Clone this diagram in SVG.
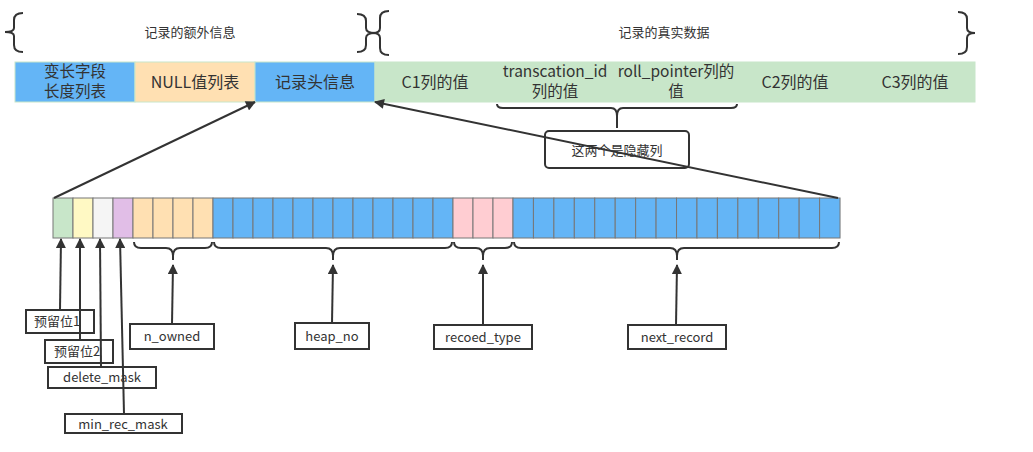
<svg xmlns="http://www.w3.org/2000/svg" width="1033" height="452" viewBox="0 0 1033 452">
<defs>
<style>
.t{font-family:"Noto Sans CJK SC","Liberation Sans",sans-serif;fill:#333;text-anchor:middle}
.big{font-size:16px}
.two{font-size:15.5px}
.sm{font-size:13px}
.lb{font-size:13px}
.cell{stroke:#777;stroke-width:1}
.top{stroke:#c8e6c9;stroke-width:1}
.br{fill:none;stroke:#333;stroke-width:2}
.box{fill:#fff;stroke:#333;stroke-width:2}
.ln{fill:none;stroke:#333;stroke-width:2}
</style>
<marker id="ah" viewBox="0 0 10 10" refX="9" refY="5" markerWidth="5.5" markerHeight="5" orient="auto" markerUnits="strokeWidth">
<path d="M0,0 L10,5 L0,10 z" fill="#333"/>
</marker>
</defs>
<rect width="1033" height="452" fill="#fff"/>

<g id="top-braces">
<path class="br" d="M23 13 Q14 13 14 20 L14 28 Q14 32 5 32 Q14 32 14 36 L14 45 Q14 52 23 52"/>
<path class="br" d="M357 14 Q366 14 366 21 L366 28 Q366 33 375 33 Q366 33 366 38 L366 45 Q366 52 357 52"/>
<path class="br" d="M389 11 Q380 11 380 18 L380 28 Q380 33 373 33 Q380 33 380 38 L380 48 Q380 55 389 55"/>
<path class="br" d="M958 12 Q967 12 967 19 L967 28 Q967 33 975 33 Q967 33 967 38 L967 47 Q967 54 958 54"/>
<text class="t sm" x="190" y="37">记录的额外信息</text>
<text class="t sm" x="664" y="37">记录的真实数据</text>
</g>

<g id="record-row">
<rect class="top" x="15" y="62" width="120" height="40" fill="#64b5f6"/>
<rect class="top" x="135" y="62" width="120" height="40" fill="#ffe0b2"/>
<rect class="top" x="255" y="62" width="120" height="40" fill="#64b5f6"/>
<rect class="top" x="375" y="62" width="600" height="40" fill="#c8e6c9"/>
<text class="t two" x="75" y="77">变长字段</text>
<text class="t two" x="75" y="97">长度列表</text>
<text class="t big" x="195" y="88">NULL值列表</text>
<text class="t big" x="315" y="88">记录头信息</text>
<text class="t big" x="435" y="88">C1列的值</text>
<text class="t two" x="555" y="77">transcation_id</text>
<text class="t two" x="555" y="97">列的值</text>
<text class="t two" x="676" y="77">roll_pointer列的</text>
<text class="t two" x="676" y="97">值</text>
<text class="t big" x="795" y="88">C2列的值</text>
<text class="t big" x="915" y="88">C3列的值</text>
</g>

<g id="hidden-note">
<path class="br" d="M497 104 Q497 108 503 108 L611 108 Q617 108 617 116 L617 128 M617 116 Q617 108 623 108 L731 108 Q737 108 737 104"/>
<rect x="545" y="131" width="144" height="37" rx="4" fill="none" stroke="#333" stroke-width="2"/>
<text class="t sm" x="617" y="155">这两个是隐藏列</text>
</g>

<g id="bits">
<rect class="cell" x="53" y="198" width="20" height="40" fill="#c8e6c9"/>
<rect class="cell" x="73" y="198" width="20" height="40" fill="#fff9c4"/>
<rect class="cell" x="93" y="198" width="20" height="40" fill="#f5f5f5"/>
<rect class="cell" x="113" y="198" width="20" height="40" fill="#e1bee7"/>
<rect class="cell" x="133" y="198" width="20" height="40" fill="#ffe0b2"/>
<rect class="cell" x="153" y="198" width="20" height="40" fill="#ffe0b2"/>
<rect class="cell" x="173" y="198" width="20" height="40" fill="#ffe0b2"/>
<rect class="cell" x="193" y="198" width="20" height="40" fill="#ffe0b2"/>
<rect class="cell" x="213" y="198" width="20" height="40" fill="#64b5f6"/>
<rect class="cell" x="233" y="198" width="20" height="40" fill="#64b5f6"/>
<rect class="cell" x="253" y="198" width="20" height="40" fill="#64b5f6"/>
<rect class="cell" x="273" y="198" width="20" height="40" fill="#64b5f6"/>
<rect class="cell" x="293" y="198" width="20" height="40" fill="#64b5f6"/>
<rect class="cell" x="313" y="198" width="20" height="40" fill="#64b5f6"/>
<rect class="cell" x="333" y="198" width="20" height="40" fill="#64b5f6"/>
<rect class="cell" x="353" y="198" width="20" height="40" fill="#64b5f6"/>
<rect class="cell" x="373" y="198" width="20" height="40" fill="#64b5f6"/>
<rect class="cell" x="393" y="198" width="20" height="40" fill="#64b5f6"/>
<rect class="cell" x="413" y="198" width="20" height="40" fill="#64b5f6"/>
<rect class="cell" x="433" y="198" width="20" height="40" fill="#64b5f6"/>
<rect class="cell" x="453" y="198" width="20" height="40" fill="#ffcdd2"/>
<rect class="cell" x="473" y="198" width="20" height="40" fill="#ffcdd2"/>
<rect class="cell" x="493" y="198" width="20" height="40" fill="#ffcdd2"/>
<rect class="cell" x="513" y="198" width="20.44" height="40" fill="#64b5f6"/>
<rect class="cell" x="533.44" y="198" width="20.44" height="40" fill="#64b5f6"/>
<rect class="cell" x="553.88" y="198" width="20.44" height="40" fill="#64b5f6"/>
<rect class="cell" x="574.32" y="198" width="20.44" height="40" fill="#64b5f6"/>
<rect class="cell" x="594.76" y="198" width="20.44" height="40" fill="#64b5f6"/>
<rect class="cell" x="615.2" y="198" width="20.44" height="40" fill="#64b5f6"/>
<rect class="cell" x="635.64" y="198" width="20.44" height="40" fill="#64b5f6"/>
<rect class="cell" x="656.08" y="198" width="20.44" height="40" fill="#64b5f6"/>
<rect class="cell" x="676.52" y="198" width="20.44" height="40" fill="#64b5f6"/>
<rect class="cell" x="696.96" y="198" width="20.44" height="40" fill="#64b5f6"/>
<rect class="cell" x="717.4" y="198" width="20.44" height="40" fill="#64b5f6"/>
<rect class="cell" x="737.84" y="198" width="20.44" height="40" fill="#64b5f6"/>
<rect class="cell" x="758.28" y="198" width="20.44" height="40" fill="#64b5f6"/>
<rect class="cell" x="778.72" y="198" width="20.44" height="40" fill="#64b5f6"/>
<rect class="cell" x="799.16" y="198" width="20.44" height="40" fill="#64b5f6"/>
<rect class="cell" x="819.6" y="198" width="20.44" height="40" fill="#64b5f6"/>
</g>

<g id="bit-braces">
<path class="br" d="M134 242 Q134 248 141 248 L166 248 Q173 248 173 256 L173 260 M173 256 Q173 248 180 248 L205 248 Q212 248 212 242"/>
<path class="br" d="M214 242 Q214 248 221 248 L326 248 Q333 248 333 256 L333 260 M333 256 Q333 248 340 248 L445 248 Q452 248 452 242"/>
<path class="br" d="M454 242 Q454 248 461 248 L476 248 Q483 248 483 256 L483 260 M483 256 Q483 248 490 248 L505 248 Q512 248 512 242"/>
<path class="br" d="M514 242 Q514 248 521 248 L670 248 Q677 248 677 256 L677 260 M677 256 Q677 248 684 248 L832 248 Q839 248 839 242"/>
</g>

<g id="n_owned"><rect class="box" x="130" y="324" width="84" height="25"/><text class="t lb" x="172" y="341">n_owned</text></g>
<g id="heap_no"><rect class="box" x="295" y="323" width="74" height="26"/><text class="t lb" x="332" y="341">heap_no</text></g>
<g id="recoed_type"><rect class="box" x="434" y="325" width="98" height="24"/><text class="t lb" x="483" y="342">recoed_type</text></g>
<g id="next_record"><rect class="box" x="628" y="325" width="98" height="24"/><text class="t lb" x="677" y="342">next_record</text></g>
<g id="reserved1"><rect class="box" x="26" y="310" width="68" height="23"/><text class="t lb" x="57" y="326">预留位1</text></g>
<g id="reserved2"><rect class="box" x="45" y="340" width="68" height="23"/><text class="t lb" x="77" y="356">预留位2</text></g>
<g id="delete_mask"><rect class="box" x="48" y="367" width="108" height="21"/><text class="t lb" x="102" y="382">delete_mask</text></g>
<g id="min_rec_mask"><rect class="box" x="65" y="414" width="117" height="19"/><text class="t lb" x="123" y="429">min_rec_mask</text></g>

<g id="connectors">
<line class="ln" x1="54" y1="198" x2="255" y2="102" marker-end="url(#ah)"/>
<line class="ln" x1="838" y1="198" x2="375" y2="102" marker-end="url(#ah)"/>
<line class="ln" x1="60" y1="310" x2="61" y2="239" marker-end="url(#ah)"/>
<line class="ln" x1="80" y1="340" x2="80" y2="239" marker-end="url(#ah)"/>
<line class="ln" x1="101" y1="367" x2="100" y2="239" marker-end="url(#ah)"/>
<line class="ln" x1="124" y1="414" x2="120" y2="239" marker-end="url(#ah)"/>
<line class="ln" x1="172" y1="324" x2="173" y2="265" marker-end="url(#ah)"/>
<line class="ln" x1="332" y1="323" x2="333" y2="265" marker-end="url(#ah)"/>
<line class="ln" x1="483" y1="325" x2="483" y2="265" marker-end="url(#ah)"/>
<line class="ln" x1="676" y1="325" x2="677" y2="265" marker-end="url(#ah)"/>
</g>
</svg>
